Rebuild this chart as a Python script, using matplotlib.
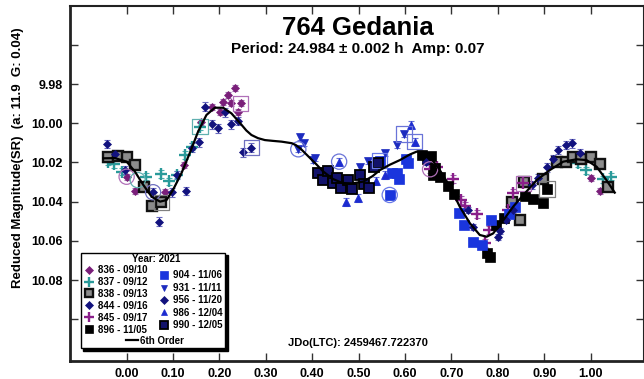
import matplotlib
matplotlib.use("Agg")
import matplotlib.pyplot as plt
from matplotlib.lines import Line2D
from matplotlib.patches import Rectangle

plt.rcParams['font.family'] = ['Liberation Sans', 'DejaVu Sans']
plt.rcParams['font.weight'] = 'bold'

# ---------------- data ----------------
title = "764 Gedania"
subtitle = "Period: 24.984 \u00b1 0.002 h  Amp: 0.07"
jd_text = "JDo(LTC): 2459467.722370"
ylabel = "Reduced Magnitude(SR)  (a: 11.9  G: 0.04)"
legend_title = "Year: 2021"

x_ticks = [0.0, 0.1, 0.2, 0.3, 0.4, 0.5, 0.6, 0.7, 0.8, 0.9, 1.0]
y_ticks = [9.96, 9.98, 10.00, 10.02, 10.04, 10.06, 10.08, 10.10]
y_tick_labels = ["", "9.98", "10.00", "10.02", "10.04", "10.06", "10.08", ""]

p836 = [0.000, 0.019, 0.083, 0.124, 0.160, 0.185, 0.201, 0.208, 0.219, 0.226, 0.233, 0.241, 0.246, 1.000, 1.020]
m836 = [10.0273, 10.0346, 10.0352, 10.0213, 9.9992, 9.9916, 9.9944, 9.9893, 9.9856, 9.9898, 9.9819, 9.9941, 9.9898, 10.0281, 10.0344]

p837 = [-0.040, -0.027, -0.009, 0.041, 0.075, 0.092, 0.108, 0.126, 0.140, 0.158, 0.973, 0.991, 1.027, 1.043]
m837 = [10.0196, 10.0209, 10.0247, 10.0273, 10.0259, 10.0295, 10.0262, 10.0162, 10.0120, 10.0018, 10.0204, 10.0239, 10.0286, 10.0273]

p838 = [-0.040, -0.018, 0.000, 0.018, 0.037, 0.055, 0.075, 0.830, 0.848, 0.856, 0.897, 0.927, 0.946, 0.963, 0.980, 1.001, 1.020, 1.038]
m838 = [10.0171, 10.0167, 10.0171, 10.0213, 10.0324, 10.0422, 10.0403, 10.0400, 10.0494, 10.0298, 10.0286, 10.0196, 10.0196, 10.0171, 10.0180, 10.0171, 10.0208, 10.0327]

p844 = [-0.042, -0.025, -0.004, 0.057, 0.070, 0.097, 0.108, 0.127, 0.140, 0.156, 0.169, 0.183, 0.197, 0.212, 0.225, 0.239, 0.251, 0.269,
        0.874, 0.887, 0.905, 0.918, 0.930, 0.946, 0.959, 0.977]
m844 = [10.0106, 10.0157, 10.0239, 10.0352, 10.0502, 10.0352, 10.0264, 10.0346, 10.0125, 10.0098, 9.9916, 10.0006, 10.0026, 9.9944, 10.0006, 9.9989, 10.0148, 10.0125,
        10.0315, 10.0281, 10.0225, 10.0184, 10.0137, 10.0111, 10.0102, 10.0153]

p845 = [0.654, 0.668, 0.704, 0.720, 0.729, 0.756, 0.772, 0.781, 0.822, 0.833, 0.855]
m845 = [10.0235, 10.0222, 10.0285, 10.0392, 10.0422, 10.0465, 10.0609, 10.0545, 10.0443, 10.0358, 10.0306]

p896 = [0.636, 0.647, 0.655, 0.661, 0.664, 0.675, 0.693, 0.705, 0.776, 0.783, 0.797, 0.813, 0.858, 0.876, 0.897, 0.906]
m896 = [10.0162, 10.0184, 10.0167, 10.0264, 10.0230, 10.0273, 10.0320, 10.0361, 10.0663, 10.0681, 10.0519, 10.0485, 10.0371, 10.0388, 10.0405, 10.0336]

p904 = [0.545, 0.567, 0.571, 0.583, 0.587, 0.603, 0.607, 0.717, 0.728, 0.747, 0.765, 0.785, 0.825, 0.837]
m904 = [10.0191, 10.0366, 10.0252, 10.0256, 10.0286, 10.0184, 10.0204, 10.0456, 10.0519, 10.0604, 10.0621, 10.0494, 10.0463, 10.0426]

p931 = [0.370, 0.373, 0.382, 0.402, 0.406, 0.503, 0.521, 0.557, 0.583, 0.598]
m931 = [10.0133, 10.0069, 10.0103, 10.0188, 10.0179, 10.0222, 10.0191, 10.0153, 10.0111, 10.0055]

p956 = [0.645, 0.736, 0.747, 0.801, 0.805, 0.818, 0.833]
m956 = [10.0200, 10.0443, 10.0528, 10.0579, 10.0548, 10.0494, 10.0443]

p986 = [0.458, 0.473, 0.499, 0.537, 0.557, 0.613, 0.621]
m986 = [10.0196, 10.0400, 10.0383, 10.0293, 10.0264, 10.0009, 10.0094]

p990 = [0.413, 0.424, 0.435, 0.445, 0.454, 0.463, 0.478, 0.486, 0.503, 0.511, 0.522, 0.533, 0.542]
m990 = [10.0252, 10.0290, 10.0244, 10.0306, 10.0281, 10.0329, 10.0290, 10.0337, 10.0264, 10.0310, 10.0332, 10.0225, 10.0201]

# circled and boxed (flagged) points
circ_phase = [0.000, 0.024, 0.057, 0.370, 0.458, 0.567, 0.654]
circ_mag = [10.0273, 10.0290, 10.0352, 10.0133, 10.0196, 10.0366, 10.0235]
circ_series = ["836", "837", "844", "931", "986", "904", "845"]

box_phase = [0.075, 0.158, 0.246, 0.269, 0.545, 0.598, 0.621, 0.855, 0.906]
box_mag = [10.0403, 10.0018, 9.9898, 10.0125, 10.0191, 10.0055, 10.0094, 10.0306, 10.0336]
box_series = ["838", "837", "836", "844", "904", "931", "986", "845", "838"]

# 6th order Fourier fit
fit_phase = [-0.050, -0.025, 0.000, 0.018, 0.036, 0.054, 0.072, 0.086, 0.100, 0.118, 0.136, 0.154, 0.172, 0.190, 0.208,
             0.226, 0.248, 0.258, 0.269, 0.283, 0.298, 0.315, 0.334, 0.356, 0.365, 0.375, 0.392, 0.409, 0.424, 0.445,
             0.465, 0.485, 0.510, 0.530, 0.546, 0.567, 0.589, 0.610, 0.625, 0.638, 0.652, 0.675, 0.697, 0.718, 0.740,
             0.761, 0.776, 0.790, 0.812, 0.833, 0.855, 0.884, 0.912, 0.941, 0.970, 0.991, 1.013, 1.034, 1.052]
fit_mag = [10.0179, 10.0178, 10.0196, 10.0247, 10.0315, 10.0375, 10.0400, 10.0392, 10.0340, 10.0256, 10.0153, 10.0043, 9.9958, 9.9921, 9.9921,
           9.9950, 10.0009, 10.0037, 10.0060, 10.0076, 10.0086, 10.0090, 10.0094, 10.0102, 10.0112, 10.0130, 10.0170, 10.0210, 10.0247, 10.0285,
           10.0305, 10.0307, 10.0298, 10.0270, 10.0239, 10.0212, 10.0188, 10.0160, 10.0145, 10.0145, 10.0165, 10.0239, 10.0324, 10.0426, 10.0511,
           10.0570, 10.0579, 10.0562, 10.0494, 10.0426, 10.0366, 10.0290, 10.0239, 10.0196, 10.0184, 10.0188, 10.0222, 10.0290, 10.0354]

# ---------------- styles ----------------
series = [
    # key, label, phases, mags, err, marker, size, face, edge, ecolor, mew
    ("836", "836 - 09/10", p836, m836, 0.0015, "D", 4.5, "#7a1f7a", "#7a1f7a", "#a070b0", 0.5),
    ("837", "837 - 09/12", p837, m837, 0.0018, "+", 8.5, "#2a9a9a", "#2a9a9a", "#50b0b0", 1.7),
    ("838", "838 - 09/13", p838, m838, 0.0008, "s", 6.5, "#8c8c8c", "#111111", "#707070", 1.7),
    ("844", "844 - 09/16", p844, m844, 0.0022, "D", 4.5, "#12127e", "#12127e", "#6a6ac0", 0.5),
    ("845", "845 - 09/17", p845, m845, 0.0020, "+", 8.5, "#8a1f8a", "#8a1f8a", "#a060b0", 1.7),
    ("896", "896 - 11/05", p896, m896, 0.0005, "s", 6.5, "#000000", "#000000", "#404040", 0.5),
    ("904", "904 - 11/06", p904, m904, 0.0010, "s", 6.5, "#1a35dd", "#1a35dd", "#6a7ae8", 0.5),
    ("931", "931 - 11/11", p931, m931, 0.0015, "v", 6.0, "#1c2bbf", "#1c2bbf", "#6a74d8", 0.5),
    ("956", "956 - 11/20", p956, m956, 0.0015, "D", 4.5, "#12127e", "#12127e", "#6a6ac0", 0.5),
    ("986", "986 - 12/04", p986, m986, 0.0020, "^", 6.0, "#1c2bd0", "#1c2bd0", "#6a74d8", 0.5),
    ("990", "990 - 12/05", p990, m990, 0.0008, "s", 6.5, "#12126a", "#000000", "#505080", 1.3),
]
ring_colors = {"836": "#b070b8", "837": "#60b0b0", "838": "#808080", "844": "#7070c0",
               "845": "#b070b8", "904": "#6a7ae8", "931": "#6a74d8", "986": "#6a74d8"}

W, H = 644, 379
fig = plt.figure(figsize=(W / 100, H / 100), dpi=100)
ax = fig.add_axes([70 / W, 1 - 361 / H, 574 / W, 355 / H])
ax.set_xlim(-0.122, 1.115)
ax.set_ylim(10.1213, 9.9402)

for key, lab, ph, mg, err, mk, ms, fc, ec, erc, mew in series:
    ax.errorbar(ph, mg, yerr=err, fmt='none', ecolor=erc, elinewidth=0.8, capsize=2, capthick=0.8, zorder=2)

for key, lab, ph, mg, err, mk, ms, fc, ec, erc, mew in series:
    ax.plot(ph, mg, linestyle='none', marker=mk, markersize=ms, markerfacecolor=fc,
            markeredgecolor=ec, markeredgewidth=mew, zorder=3)

ax.scatter(circ_phase, circ_mag, s=120, facecolors='none',
           edgecolors=[ring_colors[k] for k in circ_series], linewidths=0.9, zorder=4)
ax.scatter(box_phase, box_mag, s=120, marker='s', facecolors='none',
           edgecolors=[ring_colors[k] for k in box_series], linewidths=0.9, zorder=4)

ax.plot(fit_phase, fit_mag, color='black', linewidth=1.6, zorder=5, solid_joinstyle='round')

# axes styling
ax.set_xticks(x_ticks)
ax.set_xticklabels([f"{v:.2f}" for v in x_ticks])
ax.set_yticks(y_ticks)
ax.set_yticklabels(y_tick_labels)
ax.tick_params(direction='in', length=6, width=1, color='#333333', top=True, right=True,
               labelsize=9, pad=5)
for lbl in ax.get_xticklabels() + ax.get_yticklabels():
    lbl.set_fontweight('bold')
for side, lw in (("left", 2.0), ("bottom", 2.0), ("top", 1.5), ("right", 1.5)):
    ax.spines[side].set_linewidth(lw)
    ax.spines[side].set_color('#222222')

def fxy(px, py):
    return px / W, 1 - py / H

fig.text(*fxy(358, 28), title, ha='center', va='center', fontsize=18.5, fontweight='bold')
fig.text(*fxy(358, 49), subtitle, ha='center', va='center', fontsize=11, fontweight='bold')
fig.text(*fxy(358, 343), jd_text, ha='center', va='center', fontsize=8, fontweight='bold')
fig.text(*fxy(18, 158), ylabel, ha='center', va='center', rotation=90, fontsize=9.5, fontweight='bold')

# legend box with shadow
bx0, by0 = fxy(80.7, 348)
bx1, by1 = fxy(225, 252.7)
fig.patches.append(Rectangle((bx0 + 2.5 / W, by0 - 2.5 / H), bx1 - bx0, by1 - by0, transform=fig.transFigure,
                             facecolor='black', edgecolor='black', zorder=6))
fig.patches.append(Rectangle((bx0, by0), bx1 - bx0, by1 - by0, transform=fig.transFigure,
                             facecolor='white', edgecolor='black', linewidth=1.0, zorder=7))
fig.text(*fxy(156, 259), legend_title, ha='center', va='center', fontsize=7, fontweight='bold', zorder=8)

def handle(s):
    key, lab, ph, mg, err, mk, ms, fc, ec, erc, mew = s
    return Line2D([], [], linestyle='none', marker=mk, markersize=ms * 0.8, markerfacecolor=fc,
                  markeredgecolor=ec, markeredgewidth=mew)

prop = dict(size=7, weight='bold')
left = series[:6]
right = series[6:]
leg1 = fig.legend([handle(s) for s in left], [s[1] for s in left], loc='upper left',
                  bbox_to_anchor=fxy(85, 265), bbox_transform=fig.transFigure, frameon=False,
                  prop=prop, handlelength=0.8, handletextpad=0.5, labelspacing=0.2, borderpad=0, borderaxespad=0)
leg2 = fig.legend([handle(s) for s in right], [s[1] for s in right], loc='upper left',
                  bbox_to_anchor=fxy(160, 270.5), bbox_transform=fig.transFigure, frameon=False,
                  prop=prop, handlelength=0.8, handletextpad=0.5, labelspacing=0.25, borderpad=0, borderaxespad=0)
leg3 = fig.legend([Line2D([], [], color='black', linewidth=1.6)], ["6th Order"], loc='center left',
                  bbox_to_anchor=fxy(126, 340.7), bbox_transform=fig.transFigure, frameon=False,
                  prop=prop, handlelength=1.2, handletextpad=0.2, borderpad=0, borderaxespad=0)
for lg in (leg1, leg2, leg3):
    lg.set_zorder(9)

fig.savefig("out.png", dpi=100)
